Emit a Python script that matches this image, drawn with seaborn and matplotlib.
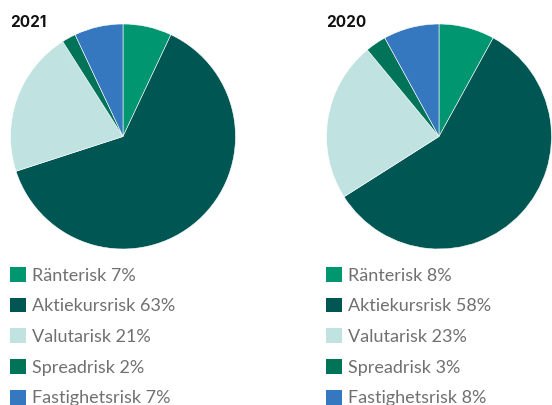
import matplotlib
matplotlib.use("Agg")
import matplotlib.pyplot as plt
import seaborn as sns
import pandas as pd

categories = ["Ränterisk", "Aktiekursrisk", "Valutarisk", "Spreadrisk", "Fastighetsrisk"]
values_2021 = [7, 63, 21, 2, 7]
values_2020 = [8, 58, 23, 3, 8]
years = ["2021", "2020"]
colors = ["#009670", "#005653", "#c0e2e0", "#007358", "#3578bf"]

sns.set_theme(style="white")
plt.rcParams["font.family"] = ["Lato", "DejaVu Sans"]

df = pd.DataFrame({"kategori": categories, "2021": values_2021, "2020": values_2020})

W, H = 552, 405
fig = plt.figure(figsize=(W / 100, H / 100), dpi=100)

centers_x = [123, 439]
cy = 136.5
r = 112.5
legend_x = [10, 326]

for year, cx, lx in zip(years, centers_x, legend_x):
    ax = fig.add_axes([(cx - r) / W, (H - cy - r) / H, 2 * r / W, 2 * r / H])
    wedges, _ = ax.pie(df[year], colors=colors, startangle=90, counterclock=False,
                       wedgeprops=dict(edgecolor="white", linewidth=0.4))
    ax.set_xlim(-1, 1)
    ax.set_ylim(-1, 1)
    ax.set_aspect("equal")
    ax.axis("off")
    fig.text(lx / W, 1 - 27 / H, year, fontsize=11, fontweight="bold",
             family=["Inter", "DejaVu Sans"], color="#111111", va="baseline", ha="left")
    labels = [f"{c} {v}%" for c, v in zip(df["kategori"], df[year])]
    leg = fig.legend(wedges, labels, loc="upper left",
                     bbox_to_anchor=(lx / W, 1 - 267 / H), frameon=False,
                     fontsize=13, handlelength=0.88, handleheight=0.88,
                     handletextpad=0.33, labelspacing=0.78, borderpad=0, borderaxespad=0)
    for t in leg.get_texts():
        t.set_color("#707070")
    for h in leg.legend_handles:
        h.set_edgecolor("none")

fig.savefig("out.png", dpi=100)
